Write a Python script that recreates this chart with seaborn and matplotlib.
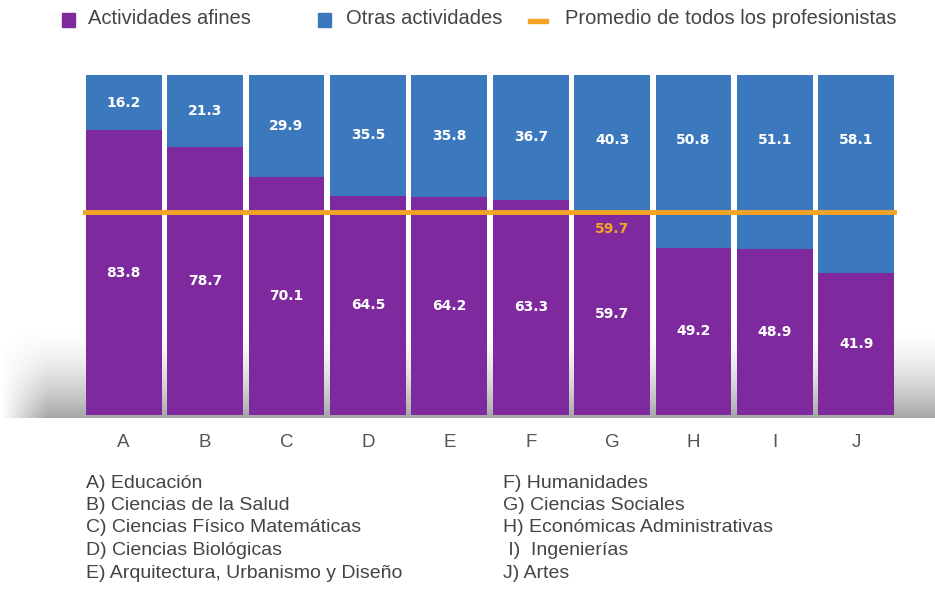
import numpy as np
import matplotlib
matplotlib.use("Agg")
import matplotlib.pyplot as plt
from matplotlib.patches import Rectangle
import seaborn as sns

# data
letras = ["A", "B", "C", "D", "E", "F", "G", "H", "I", "J"]
afines = [83.8, 78.7, 70.1, 64.5, 64.2, 63.3, 59.7, 49.2, 48.9, 41.9]
otras = [16.2, 21.3, 29.9, 35.5, 35.8, 36.7, 40.3, 50.8, 51.1, 58.1]
promedio = 59.7
areas_izq = ["A) Educación", "B) Ciencias de la Salud", "C) Ciencias Físico Matemáticas",
             "D) Ciencias Biológicas", "E) Arquitectura, Urbanismo y Diseño"]
areas_der = ["F) Humanidades", "G) Ciencias Sociales", "H) Económicas Administrativas",
             " I)  Ingenierías", "J) Artes"]

PURPLE = "#7E2A9E"
BLUE = "#3B78BE"
ORANGE = "#F4A425"

sns.set_style("white")
plt.rcParams["font.family"] = ["Liberation Sans", "DejaVu Sans"]

W, H = 935, 590
fig = plt.figure(figsize=(W / 100, H / 100), dpi=100)

# soft grey shadow behind the bars (fades in towards the bottom)
ax_bg = fig.add_axes([0, 1 - 418 / H, 1, 95 / H], zorder=0)
v = np.linspace(0, 1, 100)[:, None] ** 1.8
h = np.clip(np.linspace(0, 1, 300)[None, :] / 0.05, 0, 1)
img = np.ones((100, 300, 4))
img[..., :3] = 0.5
img[..., 3] = v * h * 0.7
ax_bg.imshow(img, aspect="auto", extent=(0, 1, 0, 1))
ax_bg.axis("off")

ax = fig.add_axes([83 / W, 1 - 415 / H, 814 / W, 340 / H], zorder=1)
ax.patch.set_alpha(0)
totales = [a + o for a, o in zip(afines, otras)]
sns.barplot(x=letras, y=totales, color=BLUE, width=0.93, saturation=1, linewidth=0, ax=ax)
sns.barplot(x=letras, y=afines, color=PURPLE, width=0.93, saturation=1, linewidth=0, ax=ax)
ax.axhline(promedio, color=ORANGE, lw=3.5, zorder=5)

for i, (a, o) in enumerate(zip(afines, otras)):
    ax.text(i, a / 2, f"{a:.1f}", ha="center", va="center", color="white",
            fontsize=10, fontweight="bold", family="DejaVu Sans", zorder=6)
    ax.text(i, 100 - min(o / 2, 19), f"{o:.1f}", ha="center", va="center", color="white",
            fontsize=10, fontweight="bold", family="DejaVu Sans", zorder=6)
ax.text(letras.index("G"), promedio - 5, f"{promedio:.1f}", ha="center", va="center",
        color=ORANGE, fontsize=10, fontweight="bold", family="DejaVu Sans", zorder=6)

ax.set_xlim(-0.5, len(letras) - 0.5)
ax.set_ylim(0, 100)
ax.set_yticks([])
ax.set_xlabel("")
ax.tick_params(axis="x", length=0, pad=14, labelsize=13.5, labelcolor="#555555")
sns.despine(ax=ax, left=True, bottom=True)

# legend on top
items = [(62, "sq", PURPLE, 88, "Actividades afines"),
         (318, "sq", BLUE, 346, "Otras actividades"),
         (528, "ln", ORANGE, 565, "Promedio de todos los profesionistas")]
for x0, kind, col, xt, txt in items:
    if kind == "sq":
        fig.patches.append(Rectangle((x0 / W, 1 - 27 / H), 13 / W, 14 / H,
                                     transform=fig.transFigure, color=col))
    else:
        fig.patches.append(Rectangle((x0 / W, 1 - 23 / H), 20 / W, 4 / H,
                                     transform=fig.transFigure, color=col))
    fig.text(xt / W, 1 - 19 / H, txt, ha="left", va="center", fontsize=14.5, color="#444444")

# category key at the bottom
for k, (l, r) in enumerate(zip(areas_izq, areas_der)):
    y = 1 - (483 + k * 22.5) / H
    fig.text(86 / W, y, l, ha="left", va="center", fontsize=14, color="#444444")
    fig.text(503 / W, y, r, ha="left", va="center", fontsize=14, color="#444444")

fig.savefig("out.png", dpi=100)
